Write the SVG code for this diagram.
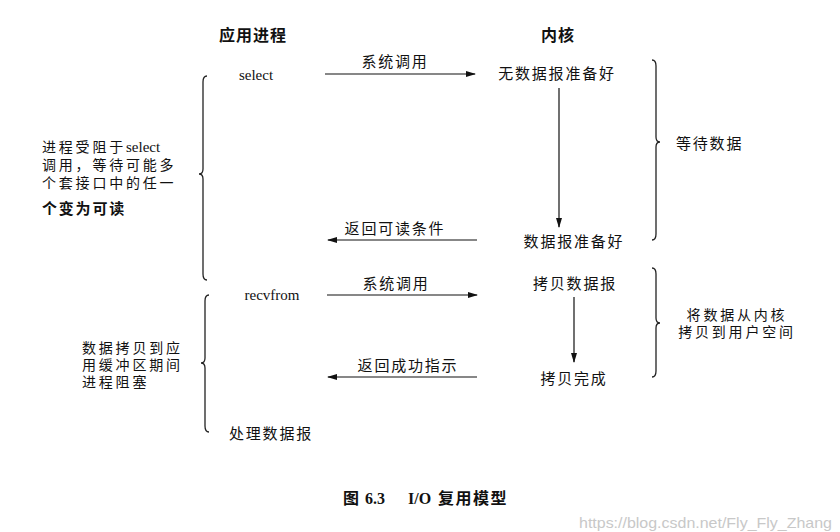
<svg xmlns="http://www.w3.org/2000/svg" width="840" height="532" viewBox="0 0 840 532">
<defs>
<marker id="ah" markerWidth="10" markerHeight="8" refX="9" refY="4" orient="auto" markerUnits="userSpaceOnUse">
<path d="M0,1 L10,4 L0,7 Z" fill="#111"/>
</marker>
<style>
.cjk{font-family:"Noto Sans CJK SC","Noto Sans",sans-serif;font-size:15px;fill:#111;letter-spacing:1.8px}
.sm{font-family:"Liberation Sans","Noto Sans CJK SC",sans-serif;font-size:14px;fill:#111;letter-spacing:2.8px}
.hd{font-family:"Noto Sans CJK SC","Noto Sans",sans-serif;font-size:16px;font-weight:bold;fill:#111;letter-spacing:1px}
.lat{font-family:"Liberation Serif",serif;font-size:15px;fill:#111}
.cap{font-family:"Liberation Serif",serif;font-size:16px;font-weight:bold;fill:#111}
.capc{font-family:"Noto Sans CJK SC",sans-serif;font-size:16px;font-weight:bold;fill:#111;letter-spacing:1.5px}
.ln{stroke:#111;stroke-width:1.2;fill:none}
.br{stroke:#222;stroke-width:1.3;fill:none}
.wm{font-family:"Liberation Sans",Arial,sans-serif;font-size:15px;fill:#c8c8c8}
</style>
</defs>
<rect width="840" height="532" fill="#fff"/>

<g id="headers">
<text class="hd" x="253" y="41" text-anchor="middle">应用进程</text>
<text class="hd" x="558" y="41" text-anchor="middle">内核</text>
</g>

<g id="app-nodes">
<text id="select" class="lat" x="256" y="80" text-anchor="middle">select</text>
<text id="recvfrom" class="lat" x="272" y="300" text-anchor="middle">recvfrom</text>
<text id="process" class="cjk" x="271" y="439" text-anchor="middle">处理数据报</text>
</g>

<g id="kernel-nodes">
<text id="nodata" class="cjk" x="557" y="79" text-anchor="middle">无数据报准备好</text>
<text id="dataready" class="cjk" x="574" y="247" text-anchor="middle">数据报准备好</text>
<text id="copy" class="cjk" x="575" y="289" text-anchor="middle">拷贝数据报</text>
<text id="copydone" class="cjk" x="574" y="384" text-anchor="middle">拷贝完成</text>
</g>

<g id="connectors">
<line class="ln" x1="325" y1="74" x2="475" y2="74" marker-end="url(#ah)"/>
<text class="cjk" x="395" y="67" text-anchor="middle">系统调用</text>
<line class="ln" x1="559" y1="88" x2="559" y2="227" marker-end="url(#ah)"/>
<line class="ln" x1="477" y1="240" x2="328" y2="240" marker-end="url(#ah)"/>
<text class="cjk" x="395" y="234" text-anchor="middle">返回可读条件</text>
<line class="ln" x1="327" y1="295" x2="477" y2="295" marker-end="url(#ah)"/>
<text class="cjk" x="396" y="289" text-anchor="middle">系统调用</text>
<line class="ln" x1="574" y1="297" x2="574" y2="362" marker-end="url(#ah)"/>
<line class="ln" x1="477" y1="377" x2="328" y2="377" marker-end="url(#ah)"/>
<text class="cjk" x="408" y="371" text-anchor="middle">返回成功指示</text>
</g>

<g id="brace-wait">
<path class="br" d="M652,60 Q656,60 656,66 L656,137 Q656,142 660,142 Q656,142 656,147 L656,234 Q656,240 652,240"/>
<text class="cjk" x="676" y="149">等待数据</text>
</g>

<g id="brace-copy">
<path class="br" d="M652,268 Q656,268 656,274 L656,318 Q656,323 660,323 Q656,323 656,328 L656,371 Q656,377 652,377"/>
<text class="sm" x="737" y="320" text-anchor="middle">将数据从内核</text>
<text class="sm" x="737" y="337" text-anchor="middle">拷贝到用户空间</text>
</g>

<g id="brace-select-block">
<path class="br" d="M207,76 Q203,76 203,82 L203,169 Q203,174 199,174 Q203,174 203,179 L203,274 Q203,280 207,280"/>
<text class="sm" x="42" y="152">进程受阻于<tspan class="lat" style="letter-spacing:0">select</tspan></text>
<text class="sm" x="42" y="170">调用，等待可能多</text>
<text class="sm" x="42" y="188">个套接口中的任一</text>
<text class="sm" x="42" y="214" style="font-size:15px;letter-spacing:1.8px;font-weight:bold">个变为可读</text>
</g>

<g id="brace-copy-block">
<path class="br" d="M209,295 Q205,295 205,301 L205,358 Q205,363 201,363 Q205,363 205,368 L205,426 Q205,432 209,432"/>
<text class="sm" x="82" y="353">数据拷贝到应</text>
<text class="sm" x="82" y="370">用缓冲区期间</text>
<text class="sm" x="82" y="387">进程阻塞</text>
</g>

<g id="caption">
<text class="capc" x="343" y="504">图</text>
<text class="cap" x="365" y="504">6.3</text>
<text class="cap" x="408" y="504">I/O</text>
<text class="capc" x="438" y="504">复用模型</text>
</g>

<text class="wm" x="579" y="528" textLength="253" lengthAdjust="spacingAndGlyphs">https://blog.csdn.net/Fly_Fly_Zhang</text>
</svg>
